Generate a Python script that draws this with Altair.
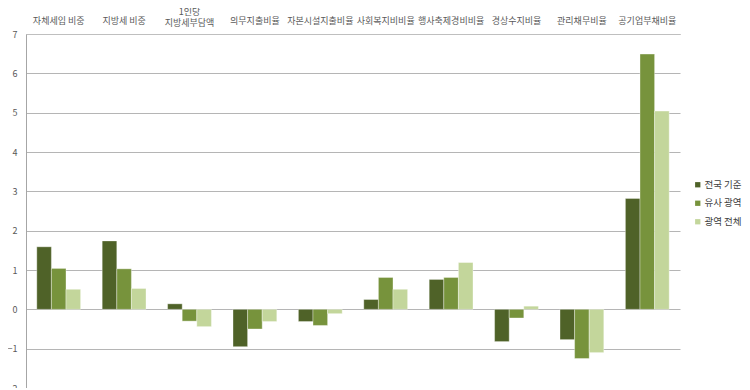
import altair as alt
import pandas as pd

categories = ["자체세입 비중", "지방세 비중", "1인당\n지방세부담액", "의무지출비율", "자본시설지출비율",
              "사회복지비비율", "행사축제경비비율", "경상수지비율", "관리채무비율", "공기업부채비율"]
series = ["전국 기준", "유사 광역", "광역 전체"]
national = [1.59, 1.74, 0.14, -0.95, -0.31, 0.25, 0.76, -0.82, -0.77, 2.82]
similar = [1.04, 1.03, -0.30, -0.50, -0.41, 0.81, 0.81, -0.22, -1.25, 6.49]
overall = [0.51, 0.53, -0.44, -0.31, -0.11, 0.51, 1.19, 0.08, -1.10, 5.04]
colors = ["#4F6228", "#77933C", "#C3D69B"]

rows = []
for s, vals in zip(series, [national, similar, overall]):
    for c, v in zip(categories, vals):
        rows.append({"cat": c, "series": s, "value": v})
df = pd.DataFrame(rows)

FONT = "Noto Sans CJK KR"

chart = alt.Chart(df).mark_bar(stroke="#ffffff", strokeWidth=0.6, strokeOpacity=0.6).encode(
    x=alt.X("cat:N", sort=categories, title=None,
            scale=alt.Scale(paddingInner=0.33, paddingOuter=0.165),
            axis=alt.Axis(orient="top", labelAngle=0, labelExpr="split(datum.value, '\\n')",
                          labelFont=FONT, labelFontSize=9, labelColor="#595959",
                          labelPadding={"condition": {"test": "indexof(datum.value, '\\n') >= 0", "value": 18},
                                        "value": 9},
                          ticks=False, domain=True, domainColor="#bfbfbf",
                          labelLineHeight=11, labelLimit=100)),
    xOffset=alt.XOffset("series:N", sort=series),
    y=alt.Y("value:Q", title=None,
            scale=alt.Scale(domain=[-2, 7], nice=False),
            axis=alt.Axis(values=list(range(-2, 8)), format="d", grid=True, gridColor="#b5b5b5",
                          ticks=False, domainColor="#a6a6a6", labelFont=FONT, labelFontSize=9,
                          labelColor="#595959", labelPadding=9)),
    color=alt.Color("series:N", sort=series, scale=alt.Scale(domain=series, range=colors),
                    legend=alt.Legend(title=None, orient="none", legendX=667, legendY=146,
                                      symbolType="square", symbolSize=28, symbolStrokeWidth=0,
                                      labelFont=FONT, labelFontSize=9.5, labelColor="#404040",
                                      rowPadding=7.5, labelOffset=2)),
).properties(
    width=654, height=354,
    autosize=alt.AutoSizeParams(type="none"),
    padding={"left": 18, "top": 26, "right": 62, "bottom": 0},
).configure_view(stroke=None).configure_axis(gridWidth=1)

chart.save("out.html", embed_options={"renderer": "svg", "actions": False})
